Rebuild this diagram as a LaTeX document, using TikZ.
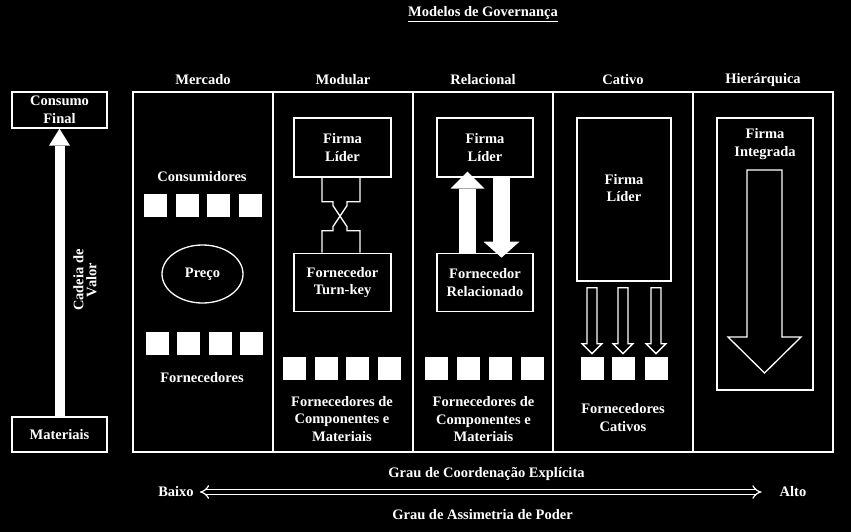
\documentclass[tikz,border=0pt]{standalone}
\usepackage{fontspec}
\setmainfont{Liberation Serif}
\usetikzlibrary{arrows.meta,positioning,shapes.geometric,calc}

\begin{document}
\begin{tikzpicture}[x=1pt, y=-1pt,
  every node/.style={text=white, font=\fontsize{14.5}{17.5}\selectfont\bfseries, align=center},
  col/.style={draw=white, line width=1.3pt, minimum width=140pt, minimum height=360pt, inner sep=0pt},
  box/.style={draw=white, line width=1.3pt, inner sep=0pt},
  sq/.style={fill=white, minimum size=23pt, inner sep=0pt},
  ln/.style={draw=white, line width=1.3pt},
  hollow/.style={draw=white, line width=1.3pt, fill=black},
  fat/.style={draw=white}
]
\fill[black] (0,0) rectangle (851,532);
\useasboundingbox (0,0) rectangle (851,532);

\node (title) at (483,14) {\underline{Modelos de Governança}};
\foreach \x/\name/\lab in {203/mer/Mercado, 343/mod/Modular, 483/rel/Relacional, 623/cat/Cativo, 763/hie/Hierárquica}{
  \node[col] (\name) at (\x,272) {};
  \node (h\name) at (\x,80) {\lab};
}

\node[box, minimum width=95pt, minimum height=36pt] (cons) at (59.5,110) {Consumo\\Final};
\node[box, minimum width=95pt, minimum height=35pt] (mat) at (59.5,434.5) {Materiais};
\draw[fat, line width=10pt, -{Triangle[length=17pt, width=21pt, line width=0pt]}] (mat) -- (cons);
\node[rotate=90, font=\fontsize{14.5}{13}\selectfont\bfseries] (cadeia) at (85,280) {Cadeia de\\Valor};

\node (consum) at (202,177) {Consumidores};
\foreach \i in {0,...,3} \node[sq] (mc\i) at ({155.5+31.7*\i},205.5) {};
\node[ellipse, draw=white, line width=1.3pt, minimum width=81pt, minimum height=58pt] (preco) at (202.5,274) {Preço};
\foreach \i in {0,...,3} \node[sq] (mf\i) at ({157.5+31.3*\i},343.5) {};
\node (forn) at (202,378) {Fornecedores};

\node[box, minimum width=97pt, minimum height=59pt] (mfl) at (342.5,147.5) {Firma\\Líder};
\node[box, minimum width=97pt, minimum height=58pt, below=75pt of mfl] (mft) {Fornecedor\\Turn-key};
\draw[ln] ([xshift=-20.5pt]mfl.south) -- ++(0,24) -- ++(11,0) -- ++(0,4) -- ++(14,21) -- ++(0,4) -- ++(13,0) -- ([xshift=17.5pt]mft.north);
\draw[ln] ([xshift=17.5pt]mfl.south) -- ++(0,24) -- ++(-13,0) -- ++(0,4) -- ++(-14,21) -- ++(0,4) -- ++(-11,0) -- ([xshift=-20.5pt]mft.north);
\foreach \i in {0,...,3} \node[sq] (mm\i) at ({294.5+31.7*\i},368.5) {};
\node (mcomp) at (342,419) {Fornecedores de\\Componentes e\\Materiais};

\node[box, minimum width=96pt, minimum height=59pt] (rfl) at (485,147.5) {Firma\\Líder};
\node[box, minimum width=96pt, minimum height=58pt, below=75pt of rfl] (rfr) {Fornecedor\\Relacionado};
\draw[fat, line width=17pt, -{Triangle[length=17pt, width=34pt, line width=0pt]}] ([xshift=-17.5pt]rfr.north) -- ([xshift=-17.5pt, yshift=6pt]rfl.south);
\draw[fat, line width=17pt, -{Triangle[length=16pt, width=36pt, line width=0pt]}] ([xshift=16.5pt]rfl.south) -- ([xshift=16.5pt, yshift=-5pt]rfr.north);
\foreach \i in {0,...,3} \node[sq] (rm\i) at ({436.5+32*\i},368.5) {};
\node (rcomp) at (483.5,419.5) {Fornecedores de\\Componentes e\\Materiais};

\node[box, minimum width=94pt, minimum height=163pt] (cfl) at (624,199.5) {};
\node (cfltxt) at (624,188) {Firma\\Líder};
\foreach \dx [count=\i] in {-32,-1,32}{
  \draw[hollow] ($(cfl.south)+({\dx-5},6)$) -- ++(10,0) -- ++(0,56) -- ++(5,0) -- ++(-10,10) -- ++(-10,-10) -- ++(5,0) -- cycle;
  \node[sq] (cs\i) at ({624+\dx},368.5) {};
}
\node (ccat) at (623,417.5) {Fornecedores\\Cativos};

\node[box, minimum width=96pt, minimum height=272pt] (hfl) at (765,254) {};
\node (hfltxt) at (765,144) {Firma\\Integrada};
\draw[hollow] (747,170) -- (782,170) -- (782,337) -- (801,337) -- (764.5,373) -- (728,337) -- (747,337) -- cycle;

\node (coord) at (486.5,474) {Grau de Coordenação Explícita};
\node[inner sep=0pt] (baixo) at (176,492) {Baixo};
\node[inner sep=0pt] (alto) at (793,492) {Alto};
\node (poder) at (482.5,515) {Grau de Assimetria de Poder};
\draw[draw=white, line width=1.2pt, double=black, double distance=3.5pt, {Implies[scale=1.5]}-{Implies[scale=1.5]}, shorten <=6pt, shorten >=18pt] (baixo) -- (alto);
\end{tikzpicture}
\end{document}
